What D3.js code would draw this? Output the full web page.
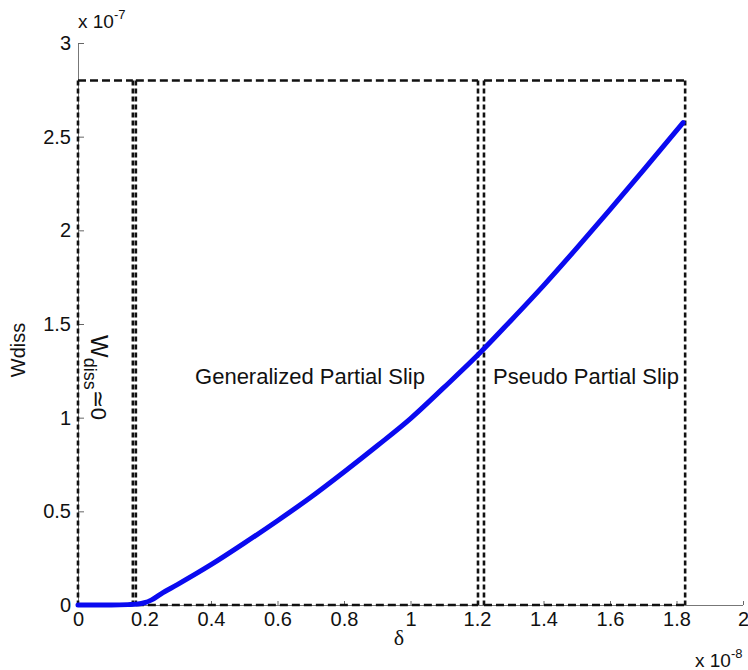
<!DOCTYPE html>
<html>
<head>
<meta charset="utf-8">
<script src="https://cdn.jsdelivr.net/npm/d3@7"></script>
<style>
  body { margin: 0; background: #fff; }
  svg { display: block; font-family: "Liberation Sans", Arial, Helvetica, sans-serif; }
</style>
</head>
<body>
<svg id="chart" width="748" height="670"></svg>
<script>
// ---- data (delta in 1e-8, Wdiss in 1e-7) ----
const deltaValues = [0, 0.05, 0.1, 0.15, 0.18, 0.2, 0.22, 0.25, 0.3, 0.4, 0.5, 0.6, 0.7, 0.8, 0.9, 1.0, 1.1, 1.2, 1.3, 1.4, 1.5, 1.6, 1.7, 1.82];
const wdissValues = [0, 0, 0, 0.002, 0.005, 0.012, 0.026, 0.06, 0.11, 0.215, 0.33, 0.45, 0.575, 0.71, 0.85, 0.995, 1.16, 1.33, 1.515, 1.705, 1.905, 2.11, 2.32, 2.575];
const xTicks = [0, 0.2, 0.4, 0.6, 0.8, 1, 1.2, 1.4, 1.6, 1.8, 2];
const yTicks = [0, 0.5, 1, 1.5, 2, 2.5, 3];
const regionStart = [0, 0.174, 1.221];
const regionEnd = [0.165, 1.203, 1.826];
const regionTop = [2.8, 2.8, 2.8];
const regionLabels = ["", "Generalized Partial Slip", "Pseudo Partial Slip"];

const svg = d3.select("#chart");
const m = { left: 78, top: 43, right: 743, bottom: 605 };
const x = d3.scaleLinear().domain([0, 2]).range([m.left, m.right]);
const y = d3.scaleLinear().domain([0, 3]).range([m.bottom, m.top]);

// axes
const fmt = d => d3.format("")(+d.toFixed(1));
const xAxis = d3.axisBottom(x).tickValues(xTicks).tickSize(-4).tickPadding(7).tickFormat(fmt);
const yAxis = d3.axisLeft(y).tickValues(yTicks).tickSize(-6).tickPadding(7).tickFormat(fmt);

const gx = svg.append("g").attr("transform", `translate(0,${m.bottom})`).call(xAxis);
const gy = svg.append("g").attr("transform", `translate(${m.left},0)`).call(yAxis);
[gx, gy].forEach(g => {
  g.select(".domain").attr("stroke", "#777").attr("stroke-width", 1);
  g.selectAll(".tick line").attr("stroke", "#666").attr("stroke-width", 1);
  g.selectAll(".tick text").attr("font-size", 20).attr("fill", "#111")
    .attr("font-family", "'Liberation Sans', Arial, sans-serif");
});
gx.select(".domain").attr("d", `M${m.left},0.5H${m.right}`);
gy.select(".domain").attr("d", `M0.5,${m.bottom}V${m.top}`);

// dashed region boxes
const boxes = svg.append("g");
regionStart.forEach((s, i) => {
  const x0 = x(s), x1 = x(regionEnd[i]), yt = y(regionTop[i]), yb = y(0);
  const hor = "8,4", ver = "5,3";
  const st = (sel, dash) => sel.attr("stroke", "#111").attr("stroke-width", 2.6)
    .attr("stroke-dasharray", dash).attr("fill", "none");
  st(boxes.append("line").attr("x1", x0).attr("x2", x1).attr("y1", yt).attr("y2", yt), hor);
  st(boxes.append("line").attr("x1", x0).attr("x2", x1).attr("y1", yb).attr("y2", yb), hor);
  st(boxes.append("line").attr("x1", x0).attr("x2", x0).attr("y1", yt).attr("y2", yb), ver);
  st(boxes.append("line").attr("x1", x1).attr("x2", x1).attr("y1", yt).attr("y2", yb), ver);
});

// curve
const line = d3.line().x((d, i) => x(deltaValues[i])).y(d => y(d)).curve(d3.curveMonotoneX);
svg.append("path").datum(wdissValues).attr("d", line)
  .attr("fill", "none").attr("stroke", "#0a0af0").attr("stroke-width", 5)
  .attr("stroke-linejoin", "round").attr("stroke-linecap", "round");

// region labels
svg.append("text").attr("x", 310).attr("y", 384).attr("text-anchor", "middle")
  .attr("font-size", 22).attr("fill", "#111").text(regionLabels[1]);
svg.append("text").attr("x", 586).attr("y", 384).attr("text-anchor", "middle")
  .attr("font-size", 22).attr("fill", "#111").text(regionLabels[2]);

// W_diss ≃ 0 rotated
const wt = svg.append("text").attr("transform", "translate(91,335) rotate(90)")
  .attr("font-size", 24).attr("fill", "#111");
wt.append("tspan").text("W");
wt.append("tspan").attr("font-size", 18).attr("dy", 7).text("diss");
wt.append("tspan").attr("font-size", 22).attr("dy", -7).text("\u2243");
wt.append("tspan").attr("font-size", 22).text("0");

// axis labels
svg.append("text").attr("transform", "translate(25,350) rotate(-90)").attr("text-anchor", "middle")
  .attr("font-size", 20).attr("fill", "#111").text("Wdiss");
svg.append("text").attr("x", 399).attr("y", 645).attr("text-anchor", "middle")
  .attr("font-size", 22).attr("fill", "#111")
  .attr("font-family", "'Liberation Serif', 'Times New Roman', serif").text("\u03b4");

// exponent labels
const e1 = svg.append("text").attr("x", 78).attr("y", 28).attr("font-size", 19).attr("fill", "#111");
e1.append("tspan").text("x 10");
e1.append("tspan").attr("font-size", 13).attr("dy", -9).text("-7");
const e2 = svg.append("text").attr("x", 695).attr("y", 667).attr("font-size", 19).attr("fill", "#111");
e2.append("tspan").text("x 10");
e2.append("tspan").attr("font-size", 13).attr("dy", -9).text("-8");
</script>
</body>
</html>
